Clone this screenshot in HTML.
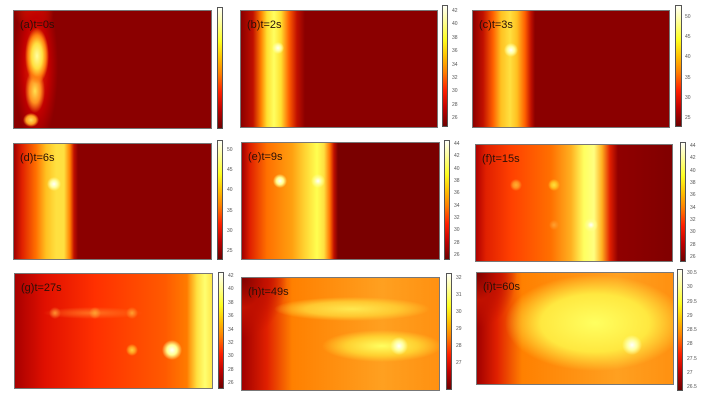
<!DOCTYPE html>
<html><head><meta charset="utf-8"><style>
body{margin:0;width:710px;height:405px;background:#fff;position:relative;overflow:hidden;font-family:"Liberation Sans",sans-serif}
.p{position:absolute;border:1px solid #777;box-sizing:border-box;overflow:hidden;background:#8b0000}
.l{position:absolute;inset:0}
.t{position:absolute;left:6px;top:8px;font-size:11px;color:#2a1008}
.cb{position:absolute;border:1px solid #555;box-sizing:border-box;background:linear-gradient(to top,#6e0000 0%,#c00000 15%,#ff2000 30%,#ff8000 45%,#ffc000 58%,#ffff20 72%,#ffffa0 88%,#fffff6 100%)}
.tk{position:absolute;font-size:5px;color:#555;display:flex;flex-direction:column;justify-content:space-between}
</style></head><body>

<!-- (a) -->
<div class="p" style="left:13px;top:10px;width:199px;height:119px">
<div class="l" style="background:
radial-gradient(ellipse 8px 7px at 17px 109px,#ffe060,#ffa020 60%,transparent 100%),
radial-gradient(ellipse 12px 28px at 23px 45px,#ffffa0,#ffe040 45%,#ff8010 75%,transparent 100%),
radial-gradient(ellipse 10px 22px at 21px 80px,#ffe050,#ff9020 55%,transparent 100%),
radial-gradient(ellipse 22px 80px at 22px 55px,#f03000,#c00000 60%,transparent 100%),
radial-gradient(ellipse 20px 20px at 20px 0,#e02000,transparent 100%)"></div>
<div class="t">(a)t=0s</div></div>
<div class="cb" style="left:217px;top:7px;width:6px;height:122px"></div>

<!-- (b) -->
<div class="p" style="left:240px;top:10px;width:198px;height:118px">
<div class="l" style="background:
radial-gradient(circle 6px at 37px 37px,#fffff0,#ffffa0 50%,transparent 100%),
linear-gradient(to right,transparent 0,#c01000 12px,#ff8000 20px,#ffe030 26px,#ffff60 33px,#ffe030 40px,#ff6000 48px,#c01000 56px,transparent 64px)"></div>
<div class="t">(b)t=2s</div></div>
<div class="cb" style="left:442px;top:5px;width:6px;height:122px"></div>
<div class="tk" style="left:452px;top:8px;height:113px"><span>42</span><span>40</span><span>38</span><span>36</span><span>34</span><span>32</span><span>30</span><span>28</span><span>26</span></div>

<!-- (c) -->
<div class="p" style="left:472px;top:10px;width:198px;height:118px">
<div class="l" style="background:
radial-gradient(circle 7px at 38px 39px,#ffffff,#ffffa0 50%,transparent 100%),
linear-gradient(to right,transparent 0,#c01000 10px,#ff6000 20px,#ffc020 28px,#ffe040 37px,#ffc020 44px,#ff6000 52px,#c01000 58px,transparent 62px)"></div>
<div class="t">(c)t=3s</div></div>
<div class="cb" style="left:675px;top:5px;width:7px;height:122px"></div>
<div class="tk" style="left:685px;top:14px;height:107px"><span>50</span><span>45</span><span>40</span><span>35</span><span>30</span><span>25</span></div>

<!-- (d) -->
<div class="p" style="left:13px;top:143px;width:199px;height:117px">
<div class="l" style="background:
radial-gradient(circle 7px at 40px 40px,#ffffff,#ffffa0 50%,transparent 100%),
linear-gradient(to right,#a00000 0,#e02000 8px,#ff7000 22px,#ffc020 32px,#ffe040 42px,#ffe040 50px,#ff8000 56px,#c01000 60px,#8b0000 64px)"></div>
<div class="t">(d)t=6s</div></div>
<div class="cb" style="left:217px;top:140px;width:6px;height:120px"></div>
<div class="tk" style="left:227px;top:147px;height:107px"><span>50</span><span>45</span><span>40</span><span>35</span><span>30</span><span>25</span></div>

<!-- (e) -->
<div class="p" style="left:241px;top:142px;width:199px;height:118px">
<div class="l" style="background:
radial-gradient(circle 7px at 38px 38px,#ffffff,#ffff90 50%,transparent 100%),
radial-gradient(circle 7px at 76px 38px,#ffffff,#ffff90 50%,transparent 100%),
linear-gradient(to right,#a00000 0,#e02000 8px,#ff7000 25px,#ffa010 50px,#ffd030 62px,#ffff50 75px,#ffe040 82px,#ff7000 88px,#c01000 92px,#7a0000 96px)"></div>
<div class="t">(e)t=9s</div></div>
<div class="cb" style="left:444px;top:140px;width:6px;height:120px"></div>
<div class="tk" style="left:454px;top:141px;height:117px"><span>44</span><span>42</span><span>40</span><span>38</span><span>36</span><span>34</span><span>32</span><span>30</span><span>28</span><span>26</span></div>

<!-- (f) -->
<div class="p" style="left:475px;top:144px;width:198px;height:118px">
<div class="l" style="background:
radial-gradient(circle 6px at 40px 40px,#ffb030,#ff9020 50%,transparent 100%),
radial-gradient(circle 6px at 78px 40px,#ffe040,#ffc020 50%,transparent 100%),
radial-gradient(circle 5px at 78px 80px,#ffa030,transparent 100%),
radial-gradient(circle 7px at 115px 80px,#ffffff,#ffff90 50%,transparent 100%),
linear-gradient(to right,#b00000 0,#e02000 10px,#ff4000 35px,#ff7000 75px,#ffb020 95px,#ffff60 108px,#ffff80 118px,#ffb020 126px,#e02000 134px,#900000 142px,#800000 198px)"></div>
<div class="t">(f)t=15s</div></div>
<div class="cb" style="left:680px;top:142px;width:6px;height:120px"></div>
<div class="tk" style="left:690px;top:143px;height:117px"><span>44</span><span>42</span><span>40</span><span>38</span><span>36</span><span>34</span><span>32</span><span>30</span><span>28</span><span>26</span></div>

<!-- (g) -->
<div class="p" style="left:14px;top:273px;width:199px;height:116px">
<div class="l" style="background:
radial-gradient(circle 10px at 157px 76px,#ffffff,#ffff90 50%,transparent 100%),
radial-gradient(circle 6px at 117px 76px,#ffd040,#ffa020 50%,transparent 100%),
radial-gradient(circle 6px at 40px 39px,#ff9030,transparent 100%),
radial-gradient(circle 6px at 80px 39px,#ffa030,transparent 100%),
radial-gradient(circle 6px at 117px 39px,#ffa030,transparent 100%),
radial-gradient(ellipse 50px 6px at 78px 39px,#ff7020,transparent 100%),
linear-gradient(to right,transparent 0,transparent 172px,#ffe040 182px,#ffff70 190px,#ffe040 199px),
linear-gradient(to right,#a80000 0,#e01000 30px,#ff3000 80px,#ff5a00 150px,#ff8000 175px)"></div>
<div class="t">(g)t=27s</div></div>
<div class="cb" style="left:218px;top:272px;width:6px;height:117px"></div>
<div class="tk" style="left:228px;top:273px;height:113px"><span>42</span><span>40</span><span>38</span><span>36</span><span>34</span><span>32</span><span>30</span><span>28</span><span>26</span></div>

<!-- (h) -->
<div class="p" style="left:241px;top:277px;width:199px;height:114px">
<div class="l" style="background:
radial-gradient(circle 9px at 157px 68px,#ffffff,#ffffa0 50%,transparent 100%),
radial-gradient(ellipse 60px 16px at 140px 68px,#ffff60,#ffd030 60%,transparent 100%),
radial-gradient(ellipse 78px 12px at 110px 31px,#ffe850,#ffc830 60%,transparent 100%),
radial-gradient(ellipse 45px 60px at 0 0,#800000,#c01000 50%,transparent 100%),
linear-gradient(to right,#a00000 0,#e02000 25px,#ff8000 50px,#ffa020 140px,#ff9010 199px)"></div>
<div class="t">(h)t=49s</div></div>
<div class="cb" style="left:446px;top:273px;width:6px;height:117px"></div>
<div class="tk" style="left:456px;top:275px;height:91px"><span>32</span><span>31</span><span>30</span><span>29</span><span>28</span><span>27</span></div>

<!-- (i) -->
<div class="p" style="left:476px;top:272px;width:198px;height:113px">
<div class="l" style="background:
radial-gradient(circle 10px at 155px 72px,#ffffff,#ffffa0 50%,transparent 100%),
radial-gradient(ellipse 90px 48px at 118px 50px,#ffff60,#ffe840 60%,transparent 100%),
radial-gradient(ellipse 40px 55px at 0 0,#800000,#c01000 50%,transparent 100%),
linear-gradient(to right,#a00000 0,#e02000 20px,#ff8000 45px,#ffa020 140px,#ff9010 198px)"></div>
<div class="t">(i)t=60s</div></div>
<div class="cb" style="left:677px;top:269px;width:6px;height:122px"></div>
<div class="tk" style="left:687px;top:270px;height:120px"><span>30.5</span><span>30</span><span>29.5</span><span>29</span><span>28.5</span><span>28</span><span>27.5</span><span>27</span><span>26.5</span></div>

</body></html>
